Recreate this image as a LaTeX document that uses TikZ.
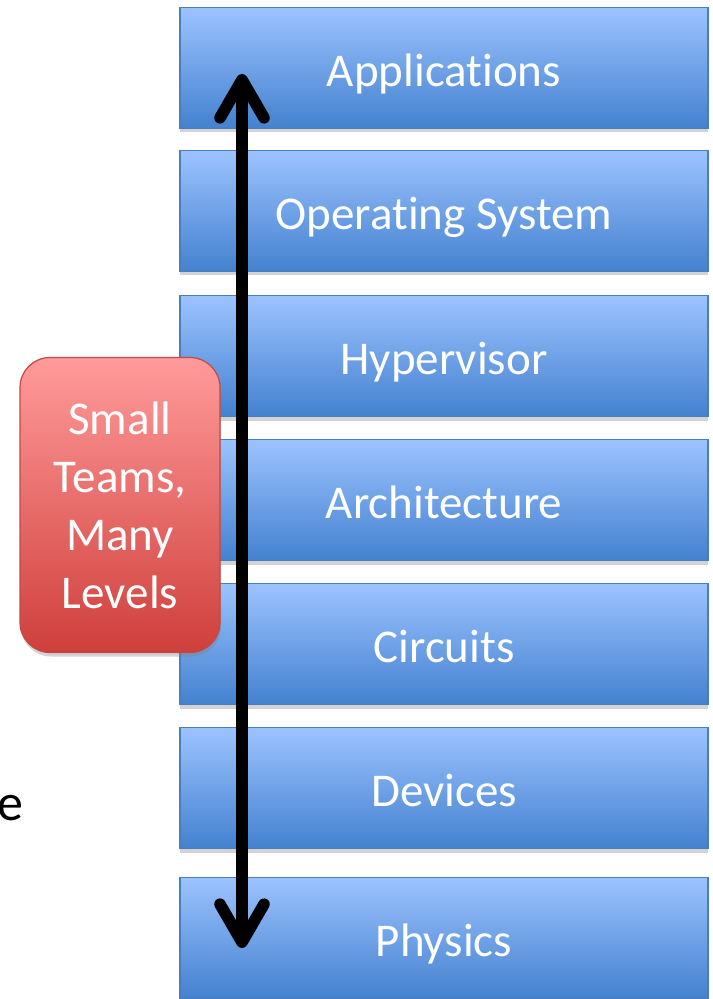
\documentclass[tikz,border=0pt]{standalone}
\usepackage{fontspec}
\setmainfont[Ligatures={NoCommon,NoRare}]{Carlito}
\usetikzlibrary{arrows.meta,shadows}

% a zero kern keeps the shaper from joining "t" and "i"
\newcommand{\splitti}{t\kern0pt i}

\definecolor{layerTop}{HTML}{9CC3FF}
\definecolor{layerBot}{HTML}{4381CF}
\definecolor{layerEdge}{HTML}{4A7EBB}
\definecolor{noteTop}{HTML}{FF9B9A}
\definecolor{noteBot}{HTML}{CF3F3B}
\definecolor{noteEdge}{HTML}{BE4B48}

\tikzset{
  layer/.style={
    draw=layerEdge, line width=0.6pt,
    top color=layerTop, bottom color=layerBot,
    minimum width=264pt, minimum height=60.5pt,
    inner sep=0pt, text=white,
    text height=18.5pt, text depth=0pt,
    font=\fontsize{23.5pt}{28pt}\selectfont,
    drop shadow={shadow xshift=0pt, shadow yshift=-2pt, opacity=0.35}
  },
  note/.style={
    draw=noteEdge, line width=0.6pt,
    top color=noteTop, bottom color=noteBot,
    rounded corners=15pt,
    minimum width=100pt, minimum height=147.5pt,
    inner sep=0pt, text=white, align=center,
    font=\fontsize{23.5pt}{29pt}\selectfont,
    drop shadow={shadow xshift=0.5pt, shadow yshift=-2pt, opacity=0.35}
  },
  barb/.tip={Straight Barb[length=19pt, width=22pt, line cap=round, line join=round]},
  span/.style={
    line width=5.8pt, line cap=round, line join=round, barb-barb
  }
}

\begin{document}
\begin{tikzpicture}[x=0.5pt, y=-0.5pt]
  \useasboundingbox (0,0) rectangle (712,999);

  % abstraction layers, top to bottom
  \node[layer] (apps) at (444,68)  {Applica\splitti ons};
  \node[layer] (os)   at (444,211) {Opera\splitti ng System};
  \node[layer] (hyp)  at (444,356) {Hypervisor};
  \node[layer] (arch) at (444,500) {Architecture};
  \node[layer] (circ) at (444,644) {Circuits};
  \node[layer] (dev)  at (444,788) {Devices};
  \node[layer] (phys) at (444,938) {Physics};

  % span covered across all layers
  \coordinate (spanTop) at (242,74);
  \coordinate (spanBot) at (242,948);
  \draw[span] (spanTop) -- (spanBot);

  % callout
  \node[note] (teams) at (120,505) {Small\\Teams,\\Many\\Levels};

  % trailing letter of a clipped word at the left edge
  \node[anchor=base east, inner sep=0pt, font=\fontsize{26pt}{30pt}\selectfont] (tail) at (24,820) {e};
\end{tikzpicture}
\end{document}
